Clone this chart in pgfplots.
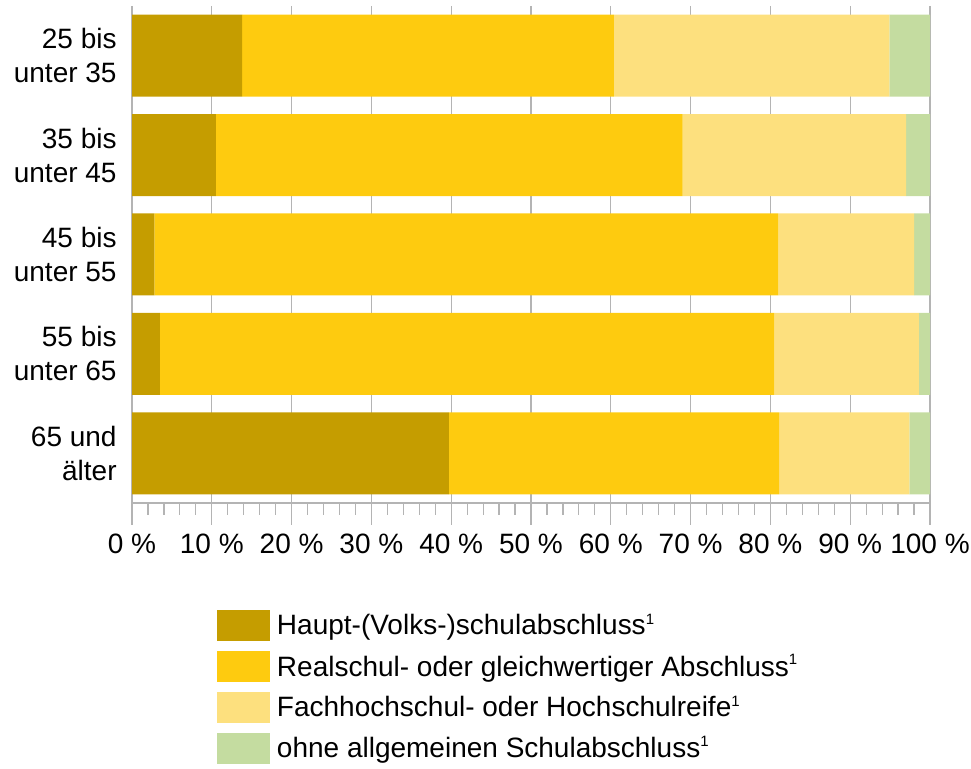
\documentclass[border=0pt]{standalone}
\usepackage{pgfplots}
\pgfplotsset{compat=1.18}
\usepackage{fontspec}
\setmainfont{Liberation Sans}
\definecolor{haupt}{HTML}{C59D00}
\definecolor{real}{HTML}{FECB0F}
\definecolor{fach}{HTML}{FDE07E}
\definecolor{ohne}{HTML}{C4DCA0}
\definecolor{gridc}{HTML}{B4B4B4}
\newcommand{\fnone}{\raisebox{5.5pt}{\fontsize{7.5}{8}\selectfont 1}}
\begin{document}
\begin{tikzpicture}
\useasboundingbox (0,0) rectangle (485.5pt,384.5pt);
\begin{axis}[
  at={(66pt,133pt)}, anchor=south west,
  scale only axis, width=399pt, height=248.5pt,
  xbar stacked, bar width=41pt,
  xmin=0, xmax=100, ymin=-0.5, ymax=4.5, y dir=reverse,
  axis lines*=left,
  y axis line style={draw=none},
  x axis line style={gridc, line width=0.6pt},
  ytick={0,1,2,3,4},
  yticklabels={{25 bis\\unter 35},{35 bis\\unter 45},{45 bis\\unter 55},{55 bis\\unter 65},{65 und\\älter}},
  ytick style={draw=none},
  yticklabel style={align=right, anchor=east, inner sep=0pt, xshift=3.5pt, font=\fontsize{14}{17}\selectfont},
  xtick={0,10,...,100},
  xticklabels={0 \%,10 \%,20 \%,30 \%,40 \%,50 \%,60 \%,70 \%,80 \%,90 \%,100 \%},
  xticklabel style={inner sep=0pt, anchor=north, yshift=-4.5pt, font=\fontsize{14}{17}\selectfont},
  minor x tick num=4,
  tick align=outside,
  major tick length=11pt, minor tick length=6pt,
  xtick style={gridc, line width=0.6pt},
  xmajorgrids, grid style={gridc, line width=0.6pt},
  legend style={at={(0.1065,-0.2153)}, anchor=north west, draw=none, fill=none,
    inner sep=0pt, outer sep=0pt, row sep=4pt,
    font=\fontsize{14}{17}\selectfont,
    nodes={inner sep=0pt, text height=11.5pt, text depth=4pt},
    /tikz/every odd column/.append style={column sep=3.5pt}},
  legend cell align=left,
]
\addplot[fill=haupt, draw=none, legend image code/.code={\fill[haupt] (0pt,-6.75pt) rectangle (26.5pt,8.75pt);}]
  coordinates {(13.8,0) (10.5,1) (2.8,2) (3.5,3) (39.7,4)};
\addplot[fill=real, draw=none, legend image code/.code={\fill[real] (0pt,-6.75pt) rectangle (26.5pt,8.75pt);}]
  coordinates {(46.6,0) (58.5,1) (78.2,2) (77.0,3) (41.4,4)};
\addplot[fill=fach, draw=none, legend image code/.code={\fill[fach] (0pt,-6.75pt) rectangle (26.5pt,8.75pt);}]
  coordinates {(34.5,0) (28.0,1) (17.0,2) (18.1,3) (16.3,4)};
\addplot[fill=ohne, draw=none, legend image code/.code={\fill[ohne] (0pt,-6.75pt) rectangle (26.5pt,8.75pt);}]
  coordinates {(5.1,0) (3.0,1) (2.0,2) (1.4,3) (2.6,4)};
\legend{Haupt-(Volks-)schulabschluss\fnone,
        Realschul- oder gleichwertiger Abschluss\fnone,
        Fachhochschul- oder Hochschulreife\fnone,
        ohne allgemeinen Schulabschluss\fnone}
\end{axis}
\end{tikzpicture}
\end{document}
